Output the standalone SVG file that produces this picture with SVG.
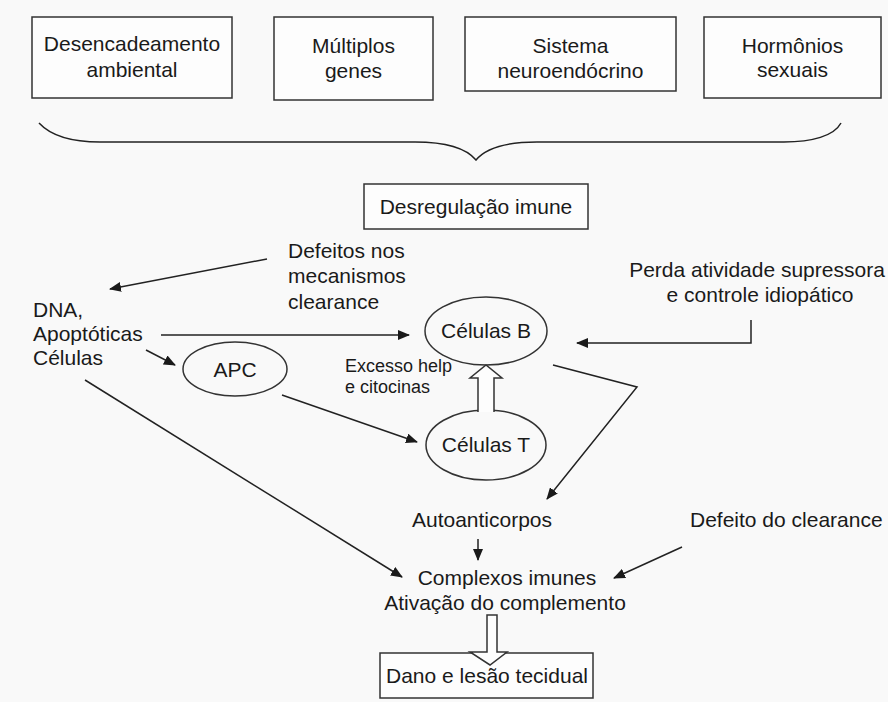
<svg xmlns="http://www.w3.org/2000/svg" width="888" height="702" viewBox="0 0 888 702">
<defs>
<marker id="ah" markerWidth="12" markerHeight="10" refX="11" refY="5" orient="auto" markerUnits="userSpaceOnUse">
<path d="M0,0 L12,5 L0,10 Z" fill="#1a1a1a"/>
</marker>
<style>
.t{font-family:"Liberation Sans",Arial,sans-serif;font-size:21px;fill:#1a1a1a}
.s{font-size:18px}
.m{text-anchor:middle}
.box{fill:#fdfdfd;stroke:#333;stroke-width:1.5}
.ell{fill:none;stroke:#333;stroke-width:1.5}
.ln{fill:none;stroke:#222;stroke-width:1.5}
.ar{fill:none;stroke:#222;stroke-width:1.5;marker-end:url(#ah)}
.hollow{fill:#fdfdfd;stroke:#333;stroke-width:1.5}
</style>
</defs>
<rect width="888" height="702" fill="#f9f9f9"/>

<g id="n-desencadeamento">
<rect class="box" x="32" y="17" width="200" height="81"/>
<text class="t m" x="132" y="51">Desencadeamento</text>
<text class="t m" x="132" y="77">ambiental</text>
</g>
<g id="n-multiplos">
<rect class="box" x="274" y="17" width="159" height="83"/>
<text class="t m" x="353.5" y="53">Múltiplos</text>
<text class="t m" x="353.5" y="78">genes</text>
</g>
<g id="n-sistema">
<rect class="box" x="465" y="17" width="211" height="74"/>
<text class="t m" x="570.5" y="53">Sistema</text>
<text class="t m" x="570.5" y="78">neuroendócrino</text>
</g>
<g id="n-hormonios">
<rect class="box" x="704" y="17" width="177" height="81"/>
<text class="t m" x="792.5" y="53">Hormônios</text>
<text class="t m" x="792.5" y="77">sexuais</text>
</g>

<g id="brace">
<path class="ln" d="M39,123 C52,137 75,142 100,142 L415,142 C447,142 466,148 476,160 C486,148 505,142 537,142 L784,142 C812,142 834,136 841,123"/>
</g>

<g id="n-desregulacao">
<rect class="box" x="364" y="184" width="224" height="45"/>
<text class="t m" x="476" y="214">Desregulação imune</text>
</g>

<g id="n-defeitos">
<text class="t" x="288" y="258">Defeitos nos</text>
<text class="t" x="288" y="283">mecanismos</text>
<text class="t" x="288" y="309">clearance</text>
</g>

<g id="n-dna">
<text class="t" x="33" y="317">DNA,</text>
<text class="t" x="33" y="341">Apoptóticas</text>
<text class="t" x="33" y="365">Células</text>
</g>

<g id="n-apc">
<ellipse class="ell" cx="235" cy="369" rx="52" ry="27"/>
<text class="t m" x="235" y="377">APC</text>
</g>

<g id="n-celulasB">
<ellipse class="ell" cx="486" cy="331" rx="61" ry="34"/>
<text class="t m" x="486" y="338">Células B</text>
</g>

<g id="n-celulasT">
<ellipse class="ell" cx="486" cy="445" rx="60" ry="35"/>
<text class="t m" x="486" y="452">Células T</text>
</g>

<g id="n-excesso">
<text class="t s" x="345" y="372">Excesso help</text>
<text class="t s" x="345" y="393">e citocinas</text>
</g>

<g id="n-perda">
<text class="t m" x="757" y="277">Perda atividade supressora</text>
<text class="t m" x="760" y="302">e controle idiopático</text>
</g>

<g id="n-autoanticorpos">
<text class="t m" x="482" y="527">Autoanticorpos</text>
</g>

<g id="n-defeito-clearance">
<text class="t" x="690" y="527">Defeito do clearance</text>
</g>

<g id="n-complexos">
<text class="t m" x="507" y="585">Complexos imunes</text>
<text class="t m" x="505" y="610">Ativação do complemento</text>
</g>

<g id="n-dano">
<rect class="box" x="380" y="653" width="213" height="45"/>
<text class="t m" x="487" y="683">Dano e lesão tecidual</text>
</g>

<g id="connectors">
<line class="ar" x1="267" y1="259" x2="110" y2="289"/>
<line class="ar" x1="161" y1="335" x2="409" y2="335"/>
<line class="ar" x1="146" y1="350" x2="175" y2="365"/>
<line class="ar" x1="282" y1="395" x2="417" y2="442"/>
<line class="ar" x1="85" y1="380" x2="402" y2="577"/>
<polyline class="ar" points="751,320 751,343 577,343"/>
<polyline class="ar" points="553,365 637,387 547,499"/>
<line class="ar" x1="478" y1="539" x2="478" y2="560"/>
<line class="ar" x1="682" y1="547" x2="614" y2="578"/>
<path class="hollow" d="M478,412 L478,378 L470,378 L486,365 L502,378 L494,378 L494,412"/>
<path class="hollow" d="M487,615 L487,652 L470,652 L490,665 L507,652 L497,652 L497,615 Z"/>
</g>
</svg>
